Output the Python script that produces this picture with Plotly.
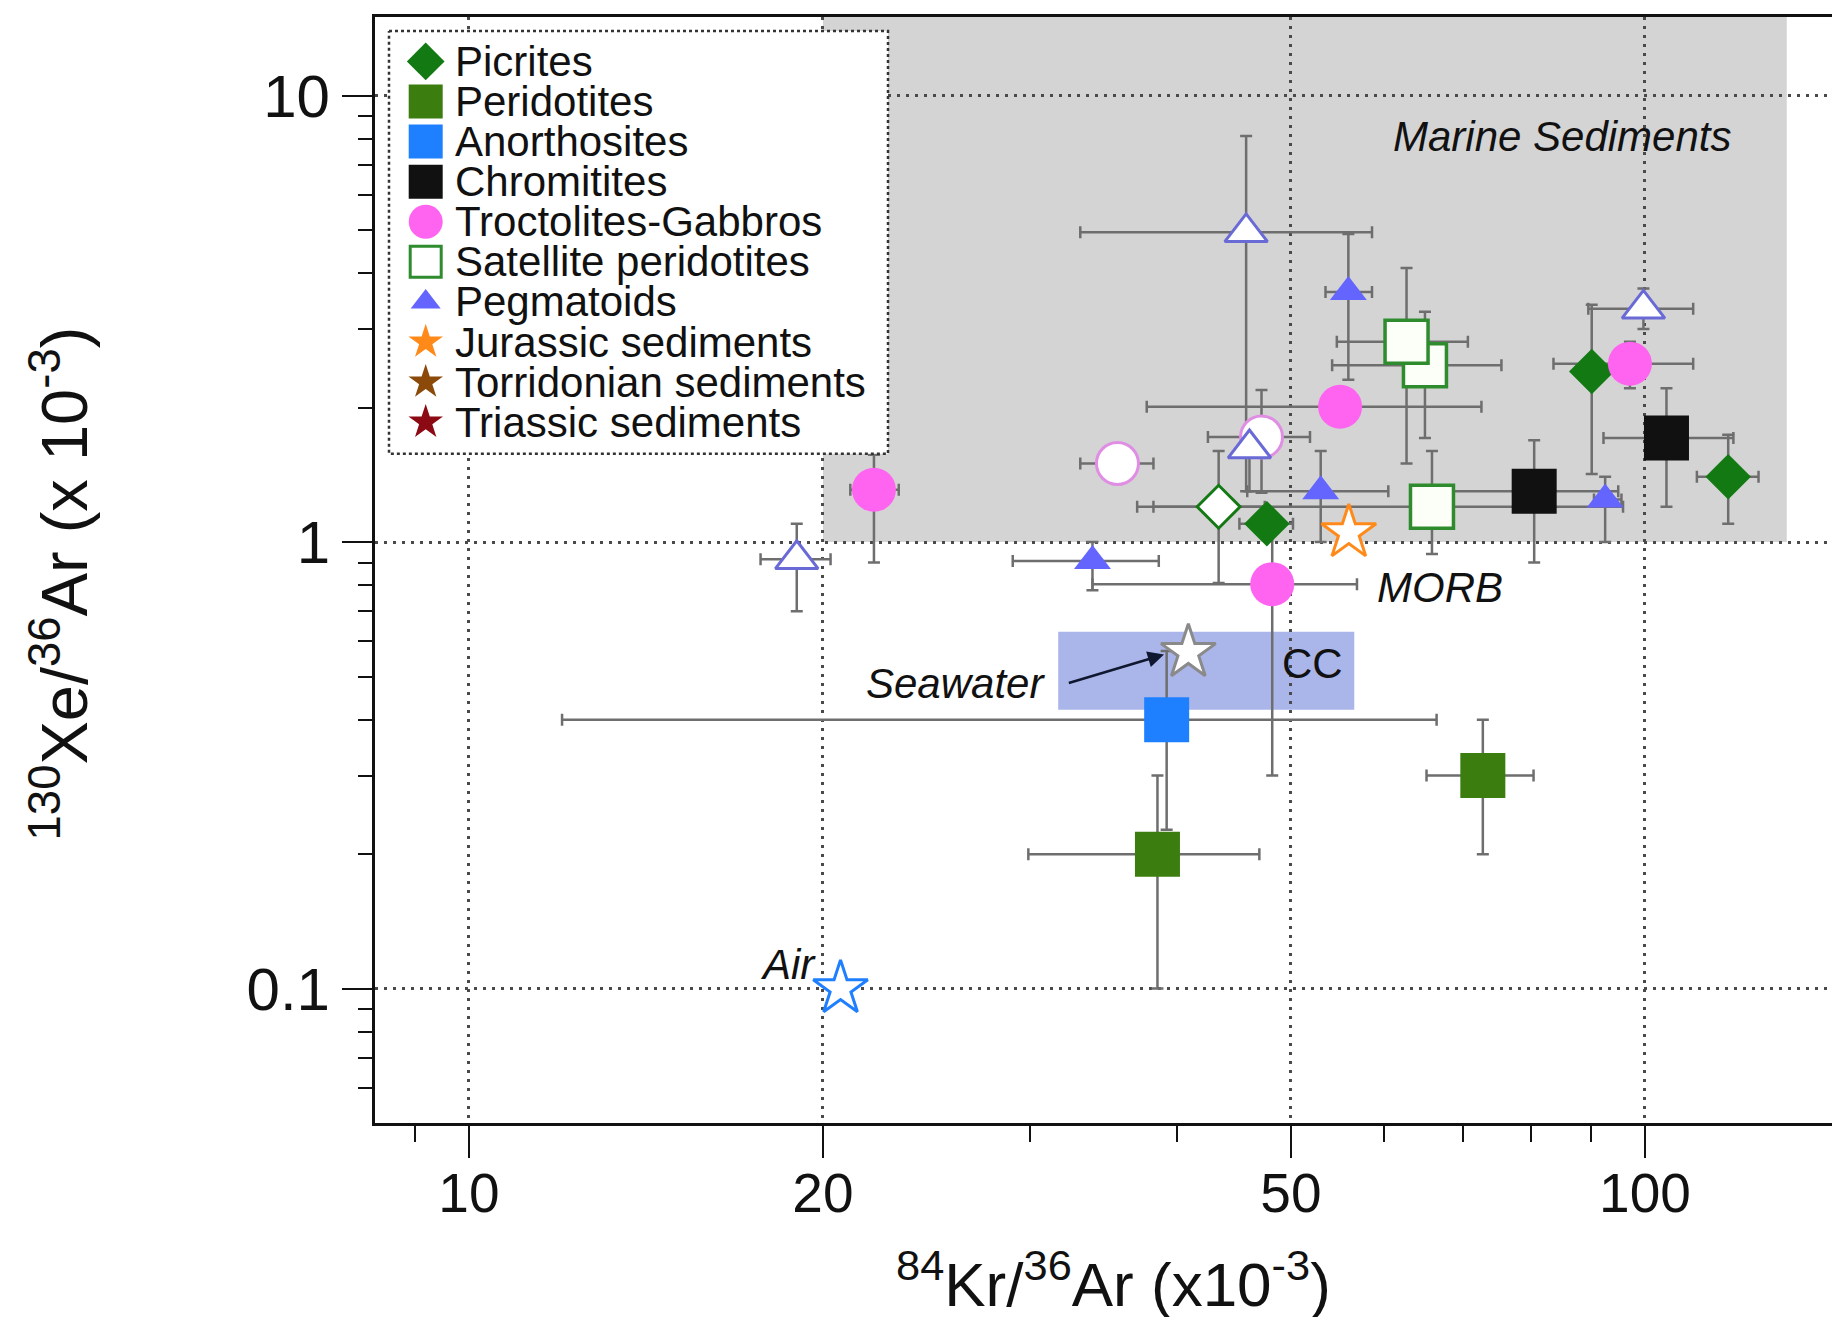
import numpy as np
import plotly.graph_objects as go

# ------------------------------------------------------------------ data
# Picrites (filled green diamonds)
picrites_x = [47.7, 90.1, 117.7]
picrites_y = [1.10, 2.41, 1.40]
picrites_xlo = [45.2, 90.1, 110.7]
picrites_xhi = [50.2, 90.1, 124.9]
picrites_ylo = [1.10, 1.42, 1.10]
picrites_yhi = [1.10, 3.40, 1.74]

# Picrite (open diamond)
picrite_open_x = [43.4]
picrite_open_y = [1.20]
picrite_open_xlo = [37.0]
picrite_open_xhi = [47.5]
picrite_open_ylo = [0.81]
picrite_open_yhi = [1.60]

# Peridotites
peridotites_x = [38.5, 72.8]
peridotites_y = [0.20, 0.30]
peridotites_xlo = [29.9, 65.2]
peridotites_xhi = [47.0, 80.4]
peridotites_ylo = [0.10, 0.20]
peridotites_yhi = [0.30, 0.40]

# Anorthosites
anorthosites_x = [39.2]
anorthosites_y = [0.40]
anorthosites_xlo = [12.0]
anorthosites_xhi = [66.5]
anorthosites_ylo = [0.227]
anorthosites_yhi = [0.57]

# Chromitites
chromitites_x = [80.5, 104.3]
chromitites_y = [1.30, 1.71]
chromitites_xlo = [68.3, 92.2]
chromitites_xhi = [94.9, 118.9]
chromitites_ylo = [0.90, 1.20]
chromitites_yhi = [1.69, 2.21]

# Troctolites-Gabbros (filled)
troct_x = [22.1, 55.05, 97.1, 48.2]
troct_y = [1.31, 2.01, 2.51, 0.805]
troct_xlo = [21.1, 37.7, 83.6, 33.9]
troct_xhi = [23.2, 72.6, 109.9, 56.9]
troct_ylo = [0.90, 2.01, 2.21, 0.30]
troct_yhi = [1.57, 2.01, 2.81, 1.05]

# Troctolites-Gabbros (open)
troct_open_x = [35.6, 47.2]
troct_open_y = [1.50, 1.72]
troct_open_xlo = [33.1, 42.5]
troct_open_xhi = [38.2, 51.9]
troct_open_ylo = [1.50, 1.29]
troct_open_yhi = [1.50, 2.19]

# Satellite peridotites (open squares)
satellite_x = [65.0, 62.7, 65.9]
satellite_y = [2.49, 2.81, 1.20]
satellite_xlo = [54.2, 54.7, 38.2]
satellite_xhi = [75.5, 70.7, 95.8]
satellite_ylo = [1.71, 1.50, 0.94]
satellite_yhi = [3.28, 4.11, 1.60]

# Pegmatoids (filled triangles)
pegma_x = [55.95, 53.0, 92.5, 33.9]
pegma_y = [3.63, 1.30, 1.245, 0.907]
pegma_xlo = [53.5, 45.9, 90.5, 29.0]
pegma_xhi = [58.6, 60.5, 95.5, 38.6]
pegma_ylo = [2.31, 1.0, 1.0, 0.78]
pegma_yhi = [4.9, 1.60, 1.40, 1.0]

# Pegmatoids (open triangles)
pegma_open_x = [45.8, 46.1, 99.7, 19.0]
pegma_open_y = [4.94, 1.62, 3.33, 0.915]
pegma_open_xlo = [33.1, 46.1, 89.5, 17.7]
pegma_open_xhi = [58.6, 46.1, 109.9, 20.3]
pegma_open_ylo = [1.30, 1.30, 3.0, 0.70]
pegma_open_yhi = [8.12, 1.62, 3.7, 1.10]

# Jurassic sediments
jurassic_x = [56.0]
jurassic_y = [1.05]

# Reference reservoirs
seawater_x = [40.9]
seawater_y = [0.566]
air_x = [20.7]
air_y = [0.10]

# Reference fields
marine_x = [20, 132]
marine_y = [1, 15]
cc_x = [31.7, 56.6]
cc_y = [0.421, 0.63]

# Axis ticks
x_ticks = [10, 20, 50, 100]
x_ticklabels = ["10", "20", "50", "100"]
x_minor = [9, 30, 40, 60, 70, 80, 90]
y_ticks = [0.1, 1, 10]
y_ticklabels = ["0.1", "1", "10"]
y_minor = [0.06, 0.07, 0.08, 0.09, 0.2, 0.3, 0.4, 0.5, 0.6, 0.7, 0.8, 0.9,
           2, 3, 4, 5, 6, 7, 8, 9]

legend_names = ["Picrites", "Peridotites", "Anorthosites", "Chromitites",
                "Troctolites-Gabbros", "Satellite peridotites", "Pegmatoids",
                "Jurassic sediments", "Torridonian sediments", "Triassic sediments"]

# ------------------------------------------------------------------ styles
FONT = "Liberation Sans, Arial, Helvetica, sans-serif"
ERRC = "#6e6e6e"

C_PIC = "#137a13"
C_PER = "#3b7d0f"
C_ANO = "#1f80ff"
C_CHR = "#111111"
C_TRO = "#ff64f0"
C_TRO_O = "#e08ee4"
C_SAT = "#2e8b2e"
C_PEG = "#6464ff"
C_PEG_O = "#6a6ad6"
C_JUR = "#ff8a1a"
C_TOR = "#8b4a0a"
C_TRI = "#8b0a14"

fig = go.Figure()


def errs(x, y, xlo, xhi, ylo, yhi):
    ex = dict(type="data", symmetric=False,
              array=[h - v for h, v in zip(xhi, x)],
              arrayminus=[v - l for l, v in zip(xlo, x)],
              color=ERRC, thickness=2.5, width=6)
    ey = dict(type="data", symmetric=False,
              array=[h - v for h, v in zip(yhi, y)],
              arrayminus=[v - l for l, v in zip(ylo, y)],
              color=ERRC, thickness=2.5, width=6)
    return ex, ey


groups = [
    # x, y, xlo, xhi, ylo, yhi, symbol, size, fill, line color, line width
    (picrites_x, picrites_y, picrites_xlo, picrites_xhi, picrites_ylo, picrites_yhi,
     "diamond", 35, C_PIC, C_PIC, 0),
    (picrite_open_x, picrite_open_y, picrite_open_xlo, picrite_open_xhi,
     picrite_open_ylo, picrite_open_yhi, "diamond", 33, "#ffffff", C_PIC, 3),
    (peridotites_x, peridotites_y, peridotites_xlo, peridotites_xhi,
     peridotites_ylo, peridotites_yhi, "square", 45, C_PER, C_PER, 0),
    (anorthosites_x, anorthosites_y, anorthosites_xlo, anorthosites_xhi,
     anorthosites_ylo, anorthosites_yhi, "square", 45, C_ANO, C_ANO, 0),
    (chromitites_x, chromitites_y, chromitites_xlo, chromitites_xhi,
     chromitites_ylo, chromitites_yhi, "square", 45, C_CHR, C_CHR, 0),
    (troct_x, troct_y, troct_xlo, troct_xhi, troct_ylo, troct_yhi,
     "circle", 44, C_TRO, C_TRO, 0),
    (troct_open_x, troct_open_y, troct_open_xlo, troct_open_xhi,
     troct_open_ylo, troct_open_yhi, "circle", 42, "#ffffff", C_TRO_O, 3),
    (satellite_x, satellite_y, satellite_xlo, satellite_xhi,
     satellite_ylo, satellite_yhi, "square", 43, "#fbfff8", C_SAT, 3.5),
    (pegma_x, pegma_y, pegma_xlo, pegma_xhi, pegma_ylo, pegma_yhi,
     "triangle-up", 32, C_PEG, C_PEG, 0),
    (pegma_open_x, pegma_open_y, pegma_open_xlo, pegma_open_xhi,
     pegma_open_ylo, pegma_open_yhi, "triangle-up", 37, "#ffffff", C_PEG_O, 3),
]

# error bars first (behind every marker)
for g in groups:
    x, y, xlo, xhi, ylo, yhi = g[:6]
    ex, ey = errs(x, y, xlo, xhi, ylo, yhi)
    fig.add_trace(go.Scatter(x=x, y=y, mode="markers",
                             marker=dict(size=1, color="rgba(0,0,0,0)"),
                             error_x=ex, error_y=ey, showlegend=False,
                             hoverinfo="skip"))

# markers
for g in groups:
    x, y = g[0], g[1]
    sym, size, fill, lc, lw = g[6:]
    fig.add_trace(go.Scatter(x=x, y=y, mode="markers", showlegend=False,
                             marker=dict(symbol=sym, size=size, color=fill,
                                         line=dict(color=lc, width=lw))))

# stars
for sx, sy, col in [(jurassic_x, jurassic_y, C_JUR),
                    (seawater_x, seawater_y, "#8a8a8a"),
                    (air_x, air_y, "#1e7fff")]:
    fig.add_trace(go.Scatter(x=sx, y=sy, mode="markers", showlegend=False,
                             marker=dict(symbol="star", size=41, color="#ffffff",
                                         line=dict(color=col, width=3))))

# ------------------------------------------------------------------ fields
fig.add_shape(type="rect", xref="x", yref="y", x0=marine_x[0], x1=marine_x[1],
              y0=marine_y[0], y1=marine_y[1], fillcolor="#d4d4d4",
              line=dict(width=0), layer="below")
fig.add_shape(type="rect", xref="x", yref="y", x0=cc_x[0], x1=cc_x[1],
              y0=cc_y[0], y1=cc_y[1], fillcolor="#aab6ea",
              line=dict(width=0), layer="below")

# ------------------------------------------------------------------ manual legend
leg_styles = [
    ("diamond", 29, C_PIC, C_PIC, 0),
    ("square", 34, C_PER, C_PER, 0),
    ("square", 34, C_ANO, C_ANO, 0),
    ("square", 34, C_CHR, C_CHR, 0),
    ("circle", 34, C_TRO, C_TRO, 0),
    ("square", 31, "#ffffff", C_SAT, 3),
    ("triangle-up", 26, C_PEG, C_PEG, 0),
    ("star", 26, C_JUR, C_JUR, 0),
    ("star", 26, C_TOR, C_TOR, 0),
    ("star", 26, C_TRI, C_TRI, 0),
]
# plot-area frame in page pixels: left 375, right 1840, top 14, bottom 1123
# (page has an 8px body margin, so the figure itself starts at 8,8)
OFF = 8
PL, PR, PT, PB = 375, 1840, 14, 1123
W = PR - PL
H = PB - PT


def u(px):
    return (px - PL) / W


def v(py):
    return (PB - py) / H


box_u = [u(389), u(888)]
box_v = [v(28), v(452)]
fig.add_trace(go.Scatter(
    x=[box_u[0], box_u[1], box_u[1], box_u[0], box_u[0]],
    y=[box_v[0], box_v[0], box_v[1], box_v[1], box_v[0]],
    xaxis="x2", yaxis="y2", mode="lines", fill="toself", fillcolor="#ffffff",
    line=dict(color="#333333", width=2.5, dash="dot"),
    showlegend=False, hoverinfo="skip"))

row0, drow = 58.5, 40.2
for i, (name, st) in enumerate(zip(legend_names, leg_styles)):
    sym, size, fill, lc, lw = st
    yy = v(row0 + i * drow)
    fig.add_trace(go.Scatter(x=[u(425.7)], y=[yy], xaxis="x2", yaxis="y2",
                             mode="markers", showlegend=False, hoverinfo="skip",
                             marker=dict(symbol=sym, size=size, color=fill,
                                         line=dict(color=lc, width=lw))))
    fig.add_annotation(xref="paper", yref="paper", x=u(453), y=yy,
                       xanchor="left", yanchor="middle", showarrow=False,
                       text=name, font=dict(family=FONT, size=42, color="#111111"))

# ------------------------------------------------------------------ text labels
ann_font = dict(family=FONT, size=42, color="#111111")
lg = np.log10
fig.add_annotation(x=lg(85), y=lg(8.1), text="<i>Marine Sediments</i>",
                   showarrow=False, font=ann_font, xanchor="center", yanchor="middle")
fig.add_annotation(x=lg(58.9), y=lg(0.79), text="<i>MORB</i>",
                   showarrow=False, font=ann_font, xanchor="left", yanchor="middle")
fig.add_annotation(x=lg(52.2), y=lg(0.534), text="CC",
                   showarrow=False, font=ann_font, xanchor="center", yanchor="middle")
fig.add_annotation(x=lg(31.0), y=lg(0.482), text="<i>Seawater</i>",
                   showarrow=False, font=ann_font, xanchor="right", yanchor="middle")
fig.add_annotation(x=lg(19.8), y=lg(0.113), text="<i>Air</i>",
                   showarrow=False, font=ann_font, xanchor="right", yanchor="middle")
fig.add_annotation(x=lg(39.0), y=lg(0.56), ax=lg(31.8), ay=lg(0.477),
                   axref="x", ayref="y", text=" ", showarrow=True,
                   arrowhead=2, arrowsize=1.3, arrowwidth=2.5, arrowcolor="#101830")

# axis titles
fig.add_annotation(xref="paper", yref="paper", x=u(1113), y=v(1280),
                   text="<sup>84</sup>Kr/<sup>36</sup>Ar (x10<sup>-3</sup>)",
                   showarrow=False, font=dict(family=FONT, size=62, color="#111111"),
                   xanchor="center", yanchor="middle")
fig.add_annotation(xref="paper", yref="paper", x=u(60), y=v(582),
                   text="<sup>130</sup>Xe/<sup>36</sup>Ar (x 10<sup>-3</sup>)",
                   textangle=-90, showarrow=False,
                   font=dict(family=FONT, size=65, color="#111111"),
                   xanchor="center", yanchor="middle")

# ------------------------------------------------------------------ layout
grid = dict(showgrid=True, gridcolor="#4a4a4a", gridwidth=2.5, griddash="3px,6px")
fig.update_layout(
    width=1840, height=1317,
    margin=dict(l=PL - OFF, r=1840 - (PR - OFF), t=PT - OFF, b=1317 - (PB - OFF), pad=0),
    paper_bgcolor="white", plot_bgcolor="white",
    font=dict(family=FONT, size=54, color="#111111"),
    showlegend=False,
    xaxis=dict(type="log", range=[lg(8.32), lg(146.5)],
               tickmode="array", tickvals=x_ticks, ticktext=x_ticklabels,
               ticks="outside", ticklen=32, tickwidth=2, tickcolor="#111111",
               showline=True, linewidth=3, linecolor="#111111", mirror=True,
               zeroline=False, tickfont=dict(family=FONT, size=55, color="#111111"),
               ticklabelstandoff=-12,
               minor=dict(tickmode="array", tickvals=x_minor, ticks="outside",
                          ticklen=16, tickwidth=2, tickcolor="#111111", showgrid=False),
               **grid),
    yaxis=dict(type="log", range=[lg(0.05), lg(15)],
               tickmode="array", tickvals=y_ticks, ticktext=y_ticklabels,
               ticks="outside", ticklen=30, tickwidth=2, tickcolor="#111111",
               showline=True, linewidth=3, linecolor="#111111", mirror=False,
               zeroline=False, tickfont=dict(family=FONT, size=60, color="#111111"),
               minor=dict(tickmode="array", tickvals=y_minor, ticks="outside",
                          ticklen=14, tickwidth=2, tickcolor="#111111", showgrid=False),
               **grid),
    xaxis2=dict(overlaying="x", range=[0, 1], visible=False, fixedrange=True),
    yaxis2=dict(overlaying="y", range=[0, 1], visible=False, fixedrange=True),
)

fig.write_html("out.html")
